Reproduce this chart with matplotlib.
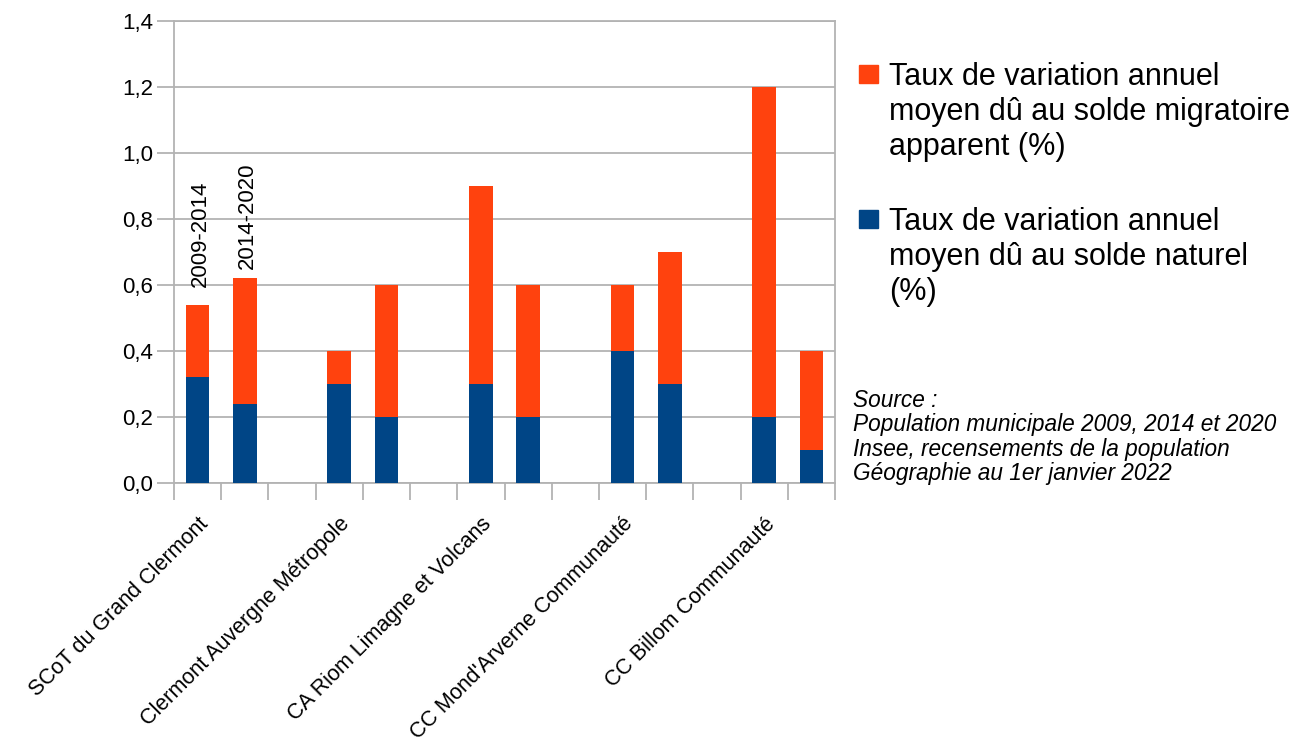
import numpy as np
import matplotlib
matplotlib.use("Agg")
from matplotlib import pyplot as plt
from matplotlib.patches import Rectangle

plt.rcParams['font.family'] = ['Liberation Sans', 'DejaVu Sans']

territoires = ["SCoT du Grand Clermont", "Clermont Auvergne Métropole",
               "CA Riom Limagne et Volcans", "CC Mond'Arverne Communauté",
               "CC Billom Communauté"]
periodes = ["2009-2014", "2014-2020"]
# solde naturel / solde migratoire apparent, par territoire : [2009-2014, 2014-2020]
naturel = [[0.32, 0.24], [0.3, 0.2], [0.3, 0.2], [0.4, 0.3], [0.2, 0.1]]
migratoire = [[0.22, 0.38], [0.1, 0.4], [0.6, 0.4], [0.2, 0.4], [1.0, 0.3]]

lab_migr = "Taux de variation annuel\nmoyen dû au solde migratoire\napparent (%)"
lab_nat = "Taux de variation annuel\nmoyen dû au solde naturel\n(%)"
source = ("Source :\nPopulation municipale 2009, 2014 et 2020\n"
          "Insee, recensements de la population\nGéographie au 1er janvier 2022")

c_orange = "#ff420e"
c_bleu = "#004586"
c_grid = "#b3b3b3"

W, H = 1302, 746
fig = plt.figure(figsize=(W/100, H/100), dpi=100)
ax = fig.add_axes([174/W, 1-483/H, (835-174)/W, (483-21)/H])

# 3 emplacements par territoire (2 barres + 1 vide), sauf le dernier
pos = []
for i in range(len(territoires)):
    pos += [3*i, 3*i+1]
pos = np.array(pos)
nat = np.array(naturel).ravel()
mig = np.array(migratoire).ravel()

ax.bar(pos, nat, width=0.5, color=c_bleu, zorder=3)
ax.bar(pos, mig, bottom=nat, width=0.5, color=c_orange, zorder=3)

# étiquettes des périodes au-dessus des barres du premier groupe
offsets = [13, 7]
for j, p in enumerate(periodes):
    ax.annotate(p, (pos[j], nat[j] + mig[j]), xytext=(2, offsets[j]),
                textcoords="offset points", rotation=90, ha="center",
                va="bottom", fontsize=16, color="#000000")

ax.set_xlim(-0.5, pos[-1] + 0.5)
ax.set_ylim(0, 1.4)
yt = np.arange(0, 1.41, 0.2)
ax.set_yticks(yt)
ax.set_yticklabels([f"{v:.1f}".replace(".", ",") for v in yt], fontsize=16)
ax.yaxis.grid(True, color=c_grid, lw=1.3, zorder=0)

ax.set_xticks(np.arange(-0.5, pos[-1] + 0.6, 1))
ax.set_xticklabels([])
ax.set_xticks(np.arange(len(territoires)) * 3, minor=True)
ax.set_xticklabels(territoires, minor=True, rotation=45, ha="right",
                   rotation_mode="anchor", fontsize=15.5)
ax.tick_params(axis="x", which="minor", length=0, pad=22)
ax.tick_params(axis="both", which="major", length=12, width=1.3, color=c_grid)
ax.tick_params(axis="y", pad=3)

for s in ax.spines.values():
    s.set_color(c_grid)
    s.set_linewidth(1.3)

# légende : carré aligné sur la première ligne du libellé
for lab, col, ytop in [(lab_migr, c_orange, 65), (lab_nat, c_bleu, 210)]:
    fig.add_artist(Rectangle((859/W, 1-(ytop+18)/H), 19/W, 18/H,
                             transform=fig.transFigure, color=col))
    fig.text(889/W, 1-(ytop-3)/H, lab, fontsize=22, va="top", ha="left",
             linespacing=1.22)

fig.text(853/W, 1-389/H, source, fontsize=16.3, style="italic",
         va="top", ha="left", linespacing=1.08)

fig.savefig("out.png", dpi=100)
